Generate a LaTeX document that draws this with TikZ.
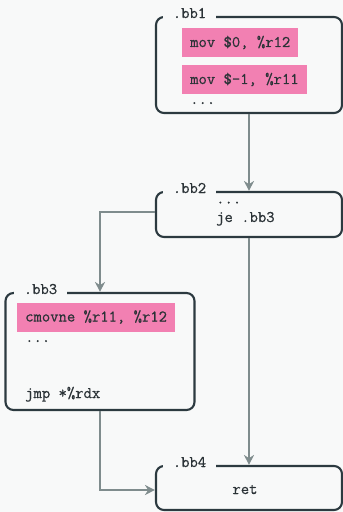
\documentclass[tikz,border=0pt]{standalone}
\usepackage{fontspec}
\setmonofont{Latin Modern Mono}[FakeBold=0.6]
\usetikzlibrary{arrows.meta}
\definecolor{bg}{HTML}{F8F9F9}
\definecolor{border}{HTML}{2C3A40}
\definecolor{arr}{HTML}{7F8C8D}
\definecolor{pinkhl}{HTML}{F280B2}
\definecolor{txt}{HTML}{2A3236}
\begin{document}
\begin{tikzpicture}[x=1pt,y=-1pt,
  font=\fontsize{16.2}{19}\selectfont\ttfamily, text=txt,
  block/.style={draw=border, line width=2.1pt, rounded corners=8pt, fill=bg, inner sep=0pt},
  blklabel/.style={fill=bg, inner xsep=0pt, inner ysep=3pt, minimum width=53pt, anchor=base},
  hl/.style={fill=pinkhl, inner xsep=8pt, inner ysep=0pt, minimum height=29pt, anchor=west},
  code/.style={anchor=base west, inner sep=0pt},
  flow/.style={draw=arr, line width=2.3pt, -{Stealth[length=10pt,width=10pt]}}]
\fill[bg] (0,0) rectangle (343,512);
\useasboundingbox (0,0) rectangle (343,512);
% blocks
\node[block, minimum width=186pt, minimum height=96pt] (bb1) at (249,65) {};
\node[block, minimum width=186pt, minimum height=45pt] (bb2) at (249,214.5) {};
\node[block, minimum width=189pt, minimum height=117pt] (bb3) at (100,351.5) {};
\node[block, minimum width=186pt, minimum height=44pt] (bb4) at (249,488) {};
% labels
\node[blklabel] (l1) at (189.5,18) {.bb1};
\node[blklabel] (l2) at (189.5,193) {.bb2};
\node[blklabel] (l3) at (40.5,294) {.bb3};
\node[blklabel] (l4) at (189.5,467) {.bb4};
% contents
\node[hl] (h1) at (182,42.5) {mov \$0, \%r12};
\node[hl] (h2) at (182,79.5) {mov \$-1, \%r11};
\node[code] (d1) at (190,104) {...};
\node[code] (d2) at (216,203.5) {...};
\node[code] (j2) at (216,222) {je .bb3};
\node[hl] (h3) at (17,317) {cmovne \%r11, \%r12};
\node[code] (d3) at (25,342) {...};
\node[code] (j3) at (25,398) {jmp *\%rdx};
\node[anchor=base, inner sep=0pt] (r4) at (245,494) {ret};
% connectors
\draw[flow] (bb1.south) -- (bb2.north);
\draw[flow] ([yshift=2.5pt]bb2.west) -| (bb3.north);
\draw[flow] (bb3.south) |- ([yshift=-2pt]bb4.west);
\draw[flow] (bb2.south) -- (bb4.north);
\end{tikzpicture}
\end{document}
